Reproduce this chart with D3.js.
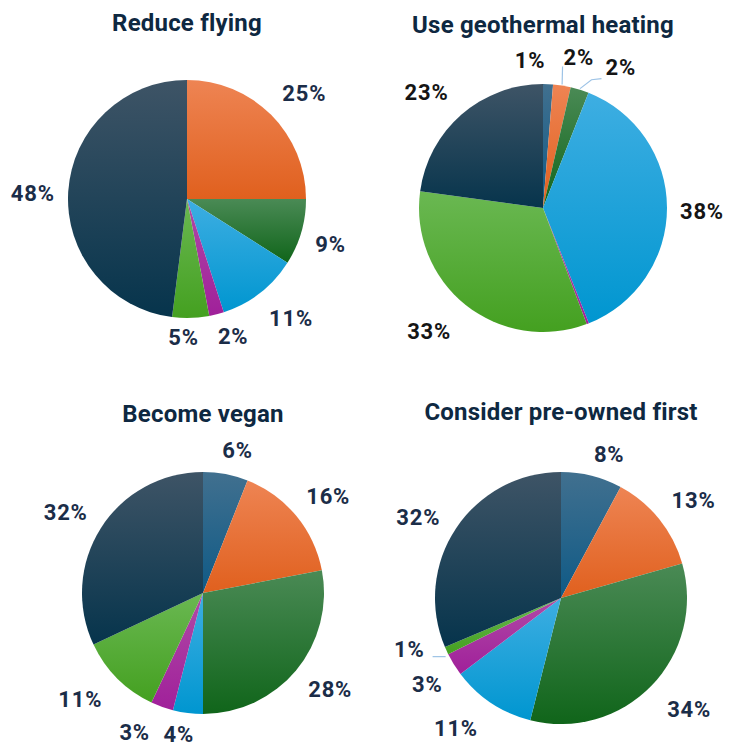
<!DOCTYPE html>
<html>
<head>
<meta charset="utf-8">
<script src="https://cdn.jsdelivr.net/npm/d3@7"></script>
<style>
  html, body { margin: 0; padding: 0; background: #ffffff; }
  svg { display: block; }
</style>
</head>
<body>
<div id="chart"></div>
<script>
// ---------------- DATA ----------------
const categories = ["Category 1", "Category 2", "Category 3", "Category 4", "Category 5", "Category 6", "Category 7"];
const titles = ["Reduce flying", "Use geothermal heating", "Become vegan", "Consider pre-owned first"];
const reduceFlying = [0, 25, 9, 11, 2, 5, 48];
const geothermalHeating = [1.3, 2.3, 2.4, 38.1, 0.3, 33, 22.9];
const becomeVegan = [6, 16, 28, 4, 3, 11, 32];
const preOwnedFirst = [8, 13, 34, 11, 3, 1, 32];

// ---------------- STYLE / LAYOUT ----------------
const W = 742, H = 755;
// gradient [top, bottom] per category
const palette = [
  ["#41708f", "#0f5a86"],
  ["#ee8453", "#e0601e"],
  ["#4a8a55", "#10651a"],
  ["#3eaee2", "#0096d0"],
  ["#b04aa6", "#a0209a"],
  ["#6ab852", "#44a020"],
  ["#3e5466", "#06344c"]
];
const panels = [
  { values: reduceFlying,      title: titles[0], cx: 187, cy: 199, r: 119, titleY: 23, labelColor: "#1b2d48" },
  { values: geothermalHeating, title: titles[1], cx: 543, cy: 208, r: 124, titleY: 25, labelColor: "#151515" },
  { values: becomeVegan,       title: titles[2], cx: 203, cy: 593, r: 121, titleY: 414, labelColor: "#1b2d48" },
  { values: preOwnedFirst,     title: titles[3], cx: 561, cy: 598, r: 126, titleY: 412, labelColor: "#1b2d48" }
];
// label nudges (panel-slice) to mimic the original label placement; leader lines where labels were moved
const nudges = {
  "0-1": { dx: 8, dy: 0 },
  "0-3": { dx: 10, dy: -6 },
  "0-4": { dx: 10, dy: -7 },
  "0-5": { dx: -8, dy: -8 },
  "1-0": { dx: -19, dy: -4 },
  "1-1": { dx: 13, dy: -7, leader: "down" },
  "1-2": { dx: 33, dy: 0, leader: "elbow" },
  "1-5": { dx: -15, dy: -4 },
  "1-6": { dx: -12, dy: 0 },
  "2-0": { dx: 7, dy: -2 },
  "2-1": { dx: 4, dy: 0 },
  "2-2": { dx: 6, dy: -8 },
  "2-3": { dx: -6, dy: -7 },
  "2-4": { dx: -18, dy: -4 },
  "2-5": { dx: -12, dy: -8 },
  "2-6": { dx: -4, dy: 0 },
  "3-0": { dx: 11, dy: 0 },
  "3-1": { dx: 6, dy: 0 },
  "3-2": { dx: 12, dy: -5 },
  "3-3": { dx: -17, dy: -6 },
  "3-5": { dx: -9, dy: -18, leader: "right" },
  "3-6": { dx: -7, dy: 5 }
};

const svg = d3.select("#chart").append("svg").attr("width", W).attr("height", H);
const defs = svg.append("defs");
palette.forEach((c, i) => {
  const g = defs.append("linearGradient").attr("id", "grad" + i)
    .attr("x1", 0).attr("y1", 0).attr("x2", 0).attr("y2", 1);
  g.append("stop").attr("offset", "0%").attr("stop-color", c[0]);
  g.append("stop").attr("offset", "100%").attr("stop-color", c[1]);
});

const pie = d3.pie().sort(null).value(d => d);
const FONT = "Roboto, 'Noto Sans', sans-serif";

panels.forEach((p, pi) => {
  const g = svg.append("g");
  g.append("text")
    .attr("x", p.cx).attr("y", p.titleY)
    .attr("text-anchor", "middle").attr("dominant-baseline", "central")
    .style("font-family", FONT)
    .style("font-weight", 700).style("font-size", "24px")
    .style("letter-spacing", "0.2px")
    .attr("fill", "#0E2841")
    .text(p.title);

  const arcs = pie(p.values);
  const arc = d3.arc().innerRadius(0).outerRadius(p.r);
  const pg = g.append("g").attr("transform", `translate(${p.cx},${p.cy})`);
  pg.selectAll("path").data(arcs).join("path")
    .attr("d", arc)
    .attr("fill", (d, i) => `url(#grad${i})`);

  arcs.forEach((d, i) => {
    const v = Math.round(d.data);
    if (v === 0) return;
    const mid = (d.startAngle + d.endAngle) / 2;
    const sx = Math.sin(mid), sy = -Math.cos(mid);
    const t = pg.append("text")
      .attr("text-anchor", "middle").attr("dominant-baseline", "central")
      .style("font-family", FONT)
      .style("font-weight", 700).style("font-size", "22px")
      .style("letter-spacing", "0.8px")
      .attr("fill", p.labelColor)
      .text(v + "%");
    const w = t.node().getComputedTextLength();
    const ext = Math.abs(sx) * w / 2 + Math.abs(sy) * 10;
    const dist = p.r + 13 + ext;
    const n = nudges[pi + "-" + i] || { dx: 0, dy: 0 };
    const lx = sx * dist + n.dx, ly = sy * dist + 4 + n.dy;
    t.attr("x", lx).attr("y", ly);
    if (n.leader) {
      const ax = sx * (p.r + 1), ay = sy * (p.r + 1);
      let pts;
      if (n.leader === "down") {
        pts = [[lx - w / 2 - 1, ly + 9], [ax, ay]];
      } else if (n.leader === "elbow") {
        const x0 = lx - w / 2 - 4, y0 = ly + 11;
        pts = [[x0, y0], [x0 - 10, y0 + 1], [ax, ay]];
      } else {
        const x0 = lx + w / 2 + 8, y0 = ly + 7;
        pts = [[x0, y0], [ax, y0]];
      }
      pg.append("path")
        .attr("d", d3.line()(pts))
        .attr("fill", "none").attr("stroke", "#9DC3E6").attr("stroke-width", 1.2);
    }
  });
});
</script>
</body>
</html>
